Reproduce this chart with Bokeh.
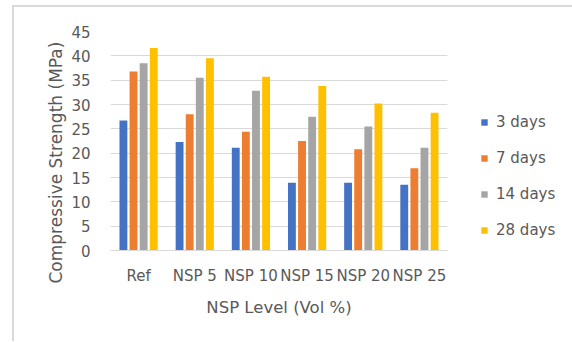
import math
from bokeh.plotting import figure
from bokeh.models import (ColumnDataSource, FactorRange, Range1d, FixedTicker, Title)
from bokeh.transform import dodge
from bokeh.embed import file_html
from bokeh.resources import INLINE

# ---- data ----
levels = ["Ref", "NSP 5", "NSP 10", "NSP 15", "NSP 20", "NSP 25"]
days_3 = [26.7, 22.3, 21.1, 13.9, 13.9, 13.5]
days_7 = [36.8, 28.0, 24.4, 22.5, 20.8, 16.9]
days_14 = [38.5, 35.5, 32.8, 27.5, 25.5, 21.1]
days_28 = [41.6, 39.5, 35.7, 33.8, 30.2, 28.3]
series_names = ["3 days", "7 days", "14 days", "28 days"]
y_ticks = [0, 5, 10, 15, 20, 25, 30, 35, 40, 45]

colors = ["#4472C4", "#ED7D31", "#A5A5A5", "#FFC000"]
offsets = [-0.27, -0.09, 0.09, 0.27]
text_color = "#595959"
grid_color = "#D9D9D9"
FONT = "DejaVu Sans"

source = ColumnDataSource(data=dict(
    level=levels, d3=days_3, d7=days_7, d14=days_14, d28=days_28))

p = figure(x_range=FactorRange(*levels), y_range=Range1d(0, 45),
           frame_width=337, frame_height=219,
           min_border_left=96, min_border_right=118,
           min_border_top=24, min_border_bottom=91,
           output_backend="svg", toolbar_location=None,
           background_fill_color="white", border_fill_color="white")
p.styles = {"border-left": "2px solid #D9D9D9", "border-top": "2px solid #D9D9D9",
            "margin-left": "12px", "margin-top": "5px"}

for col, name, color, off in zip(["d3", "d7", "d14", "d28"], series_names, colors, offsets):
    p.vbar(x=dodge("level", off, range=p.x_range), top=col, width=0.14,
           source=source, fill_color=color, line_color=None, legend_label=name)

p.outline_line_color = None
p.xgrid.grid_line_color = None
p.ygrid.grid_line_color = grid_color
p.ygrid.grid_line_width = 1

p.yaxis.ticker = FixedTicker(ticks=y_ticks)
p.yaxis.axis_line_color = None
p.yaxis.major_tick_line_color = None
p.yaxis.minor_tick_line_color = None
p.yaxis.major_label_standoff = 14
p.yaxis.major_label_text_font = FONT
p.yaxis.major_label_text_font_size = "15px"
p.yaxis.major_label_text_color = text_color

p.xaxis.axis_line_color = grid_color
p.xaxis.axis_line_width = 1
p.xaxis.major_tick_line_color = None
p.xaxis.minor_tick_line_color = None
p.xaxis.major_label_standoff = 10
p.xaxis.major_label_text_font = FONT
p.xaxis.major_label_text_font_size = "15px"
p.xaxis.major_label_text_color = text_color
p.xaxis.axis_label = "NSP Level (Vol %)"
p.xaxis.axis_label_text_font = FONT
p.xaxis.axis_label_text_font_size = "16.5px"
p.xaxis.axis_label_text_font_style = "normal"
p.xaxis.axis_label_text_color = text_color
p.xaxis.axis_label_standoff = 10

ytitle = Title(text="Compressive Strength (MPa)", align="left", offset=-33,
               vertical_align="middle", standoff=4,
               text_font=FONT, text_font_size="17px", text_font_style="normal",
               text_color=text_color)
p.add_layout(ytitle, "left")

leg = p.legend[0]
p.add_layout(leg, "right")
leg.location = (33, 11)
leg.orientation = "vertical"
leg.glyph_width = 8
leg.glyph_height = 8
leg.label_height = 18
leg.spacing = 18
leg.padding = 0
leg.margin = 0
leg.label_standoff = 8
leg.border_line_color = None
leg.background_fill_alpha = 0
leg.label_text_font = FONT
leg.label_text_font_size = "15px"
leg.label_text_color = text_color

open("out.html", "w").write(file_html(p, INLINE))
